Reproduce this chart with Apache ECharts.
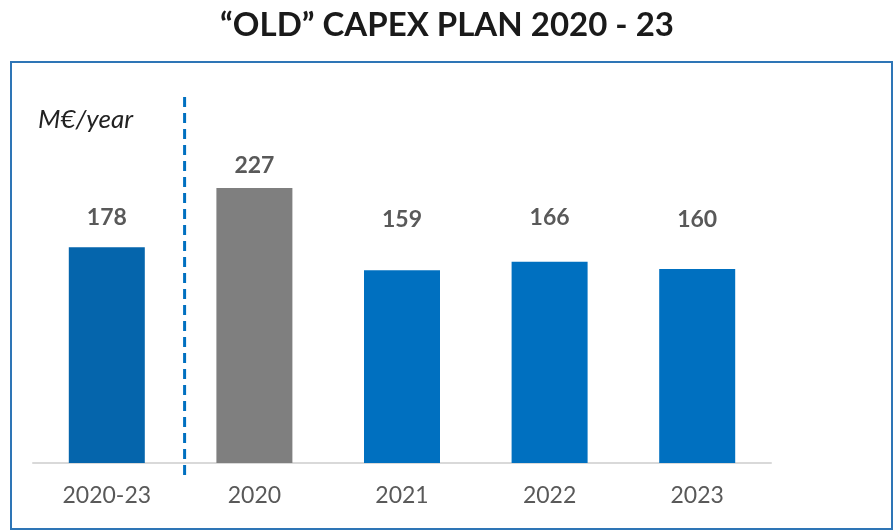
<!DOCTYPE html>
<html><head><meta charset="utf-8">
<script src="https://cdn.jsdelivr.net/npm/echarts@6/dist/echarts.min.js"></script>
<style>html,body{margin:0;padding:0;background:#fff}#c{width:894px;height:532px}</style>
</head><body><div id="c"></div>
<script>
const categories = ["2020-23", "2020", "2021", "2022", "2023"];
const values = [178, 227, 159, 166, 160];
const barColors = ["#0565AC", "#7F7F7F", "#0070C0", "#0070C0", "#0070C0"];
const labelDistances = [18, 11, 39, 33, 38];
const titleText = "\u201COLD\u201D CAPEX PLAN 2020 - 23";
const unitText = "M\u20AC/year";

const chart = echarts.init(document.getElementById('c'), null, {renderer: 'canvas'});
const font = "Lato, 'Open Sans', sans-serif";
chart.setOption({
  animation: false,
  title: {
    text: titleText, left: 'center', top: 4,
    textStyle: {fontFamily: font, fontWeight: 'bold', fontSize: 33, color: '#1a1a1a'}
  },
  grid: {left: 33, width: 738, top: 160, bottom: 69, containLabel: false},
  xAxis: {
    type: 'category', data: categories,
    axisLine: {lineStyle: {color: '#D9D9D9', width: 2}},
    axisTick: {show: false},
    axisLabel: {fontFamily: font, fontSize: 23, color: '#595959', margin: 21}
  },
  yAxis: {type: 'value', min: 0, max: 250, show: false, splitLine: {show: false}},
  series: [{
    type: 'bar', barWidth: 76,
    data: values.map((v, i) => ({value: v, itemStyle: {color: barColors[i]}, label: {distance: labelDistances[i]}})),
    label: {show: true, position: 'top', fontFamily: font, fontWeight: 'bold', fontSize: 23, color: '#595959'}
  }]
});

const x0 = chart.convertToPixel({xAxisIndex: 0}, 0);
const x1 = chart.convertToPixel({xAxisIndex: 0}, 1);
const sepX = (x0 + x1) / 2 + 4;
chart.setOption({
  graphic: [
    {type: 'rect', shape: {x: 11, y: 62, width: 881, height: 467}, style: {fill: 'none', stroke: '#2E75B6', lineWidth: 2}, z: 0},
    {type: 'line', shape: {x1: sepX, y1: 97, x2: sepX, y2: 481}, style: {stroke: '#0070C0', lineWidth: 3, lineDash: [10, 6]}},
    {type: 'text', left: 38, top: 107, style: {text: unitText, font: "italic 26px " + font, fill: '#222'}}
  ]
});
</script></body></html>
